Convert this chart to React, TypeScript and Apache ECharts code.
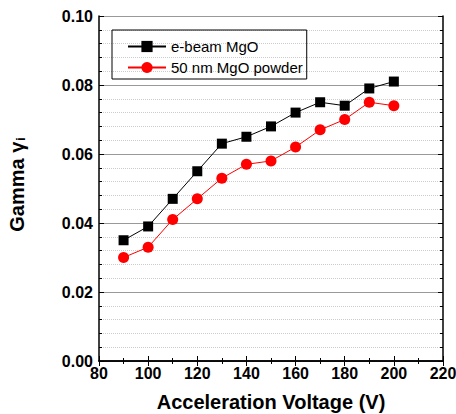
import React, { useEffect, useRef } from "react";
import * as echarts from "echarts";

const voltages = [90, 100, 110, 120, 130, 140, 150, 160, 170, 180, 190, 200];
const ebeam = [0.035, 0.039, 0.047, 0.055, 0.063, 0.065, 0.068, 0.072, 0.075, 0.074, 0.079, 0.081];
const powder = [0.030, 0.033, 0.041, 0.047, 0.053, 0.057, 0.058, 0.062, 0.067, 0.070, 0.075, 0.074];
const seriesNames = ["e-beam MgO", "50 nm MgO powder"];

export default function App() {
  const ref = useRef<HTMLDivElement>(null);
  useEffect(() => {
    if (!ref.current) return;
    const chart = echarts.init(ref.current, null, { renderer: "svg" });
    const font = "Arial, 'Liberation Sans', sans-serif";
    const tick = { show: true, inside: true, length: 5, lineStyle: { color: "#000", width: 1 } };
    const minor = { show: true, length: 3, lineStyle: { color: "#000", width: 1 } };
    chart.setOption({
      animation: false,
      grid: { left: 99, right: 13, top: 16, bottom: 53, containLabel: false, outerBoundsMode: "none" },
      legend: {
        orient: "vertical",
        left: 112,
        top: 30,
        borderColor: "#000",
        borderWidth: 1,
        borderRadius: 0,
        padding: [9, 4, 4, 15],
        itemGap: 6,
        itemWidth: 38,
        itemHeight: 14,
        textStyle: { fontFamily: font, fontSize: 15, color: "#000" },
        data: seriesNames,
      },
      xAxis: [
        {
          type: "value",
          min: 80,
          max: 220,
          interval: 20,
          axisLine: { lineStyle: { color: "#000", width: 1.5 } },
          axisTick: tick,
          minorTick: { ...minor, splitNumber: 2 },
          splitLine: { show: false },
          axisLabel: { fontFamily: font, fontSize: 16, fontWeight: "bold", color: "#000", margin: 4 },
          name: "Acceleration Voltage (V)",
          nameLocation: "middle",
          nameGap: 31,
          nameTextStyle: { fontFamily: font, fontSize: 20, fontWeight: "bold", color: "#000" },
        },
        {
          type: "value",
          position: "top",
          min: 80,
          max: 220,
          interval: 20,
          axisLine: { show: true, lineStyle: { color: "#000", width: 1.5 } },
          axisTick: tick,
          minorTick: { ...minor, splitNumber: 2 },
          splitLine: { show: false },
          axisLabel: { show: false },
        },
      ],
      yAxis: [
        {
          type: "value",
          min: 0,
          max: 0.1,
          interval: 0.02,
          axisLine: { show: true, lineStyle: { color: "#000", width: 1.5 } },
          axisTick: tick,
          minorTick: { ...minor, splitNumber: 5 },
          splitLine: { show: true, lineStyle: { color: "#999", width: 1 } },
          minorSplitLine: { show: true, lineStyle: { color: "#ccc", width: 1, type: "dotted" } },
          axisLabel: {
            fontFamily: font,
            fontSize: 16,
            fontWeight: "bold",
            color: "#000",
            margin: 6,
            formatter: (v: number) => v.toFixed(2),
          },
          name: "Gamma γ{sub|i}",
          nameLocation: "middle",
          nameGap: 72,
          nameRotate: 90,
          nameTextStyle: {
            fontFamily: font,
            fontSize: 20,
            fontWeight: "bold",
            color: "#000",
            padding: [0, 0, 0, 8],
            rich: {
              sub: { fontFamily: font, fontSize: 12, fontWeight: "bold", color: "#000", verticalAlign: "bottom", padding: [8, 0, 0, 1] },
            },
          },
        },
        {
          type: "value",
          position: "right",
          min: 0,
          max: 0.1,
          interval: 0.02,
          axisLine: { show: true, lineStyle: { color: "#000", width: 1.5 } },
          axisTick: tick,
          minorTick: { ...minor, splitNumber: 5 },
          splitLine: { show: false },
          axisLabel: { show: false },
        },
      ],
      series: [
        {
          name: seriesNames[0],
          type: "line",
          data: voltages.map((v, i) => [v, ebeam[i]]),
          symbol: "rect",
          symbolSize: 10,
          itemStyle: { color: "#000" },
          lineStyle: { color: "#000", width: 1 },
        },
        {
          name: seriesNames[1],
          type: "line",
          data: voltages.map((v, i) => [v, powder[i]]),
          symbol: "circle",
          symbolSize: 11,
          itemStyle: { color: "#ff0000" },
          lineStyle: { color: "#ff0000", width: 1 },
        },
      ],
    });
    return () => chart.dispose();
  }, []);
  return <div ref={ref} style={{ width: 456, height: 414, position: "absolute", left: 0, top: 0 }} />;
}
